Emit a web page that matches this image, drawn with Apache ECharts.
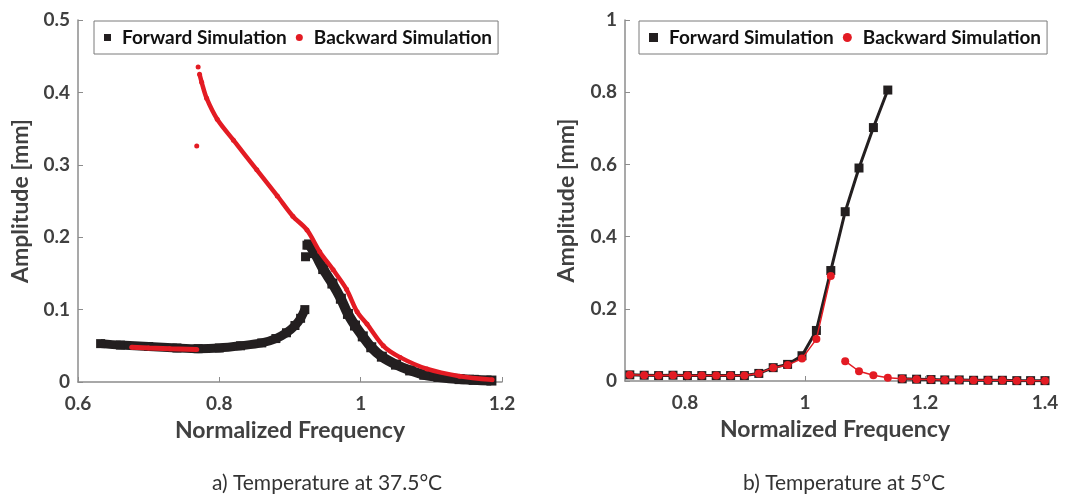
<!DOCTYPE html>
<html>
<head>
<meta charset="utf-8">
<script src="https://cdn.jsdelivr.net/npm/echarts@6.0.0/dist/echarts.min.js"></script>
<style>
  html, body { margin: 0; padding: 0; background: #fff; }
  #wrap { position: relative; width: 1069px; height: 495px; }
  #chart-left { position: absolute; left: 0; top: 0; width: 534px; height: 495px; }
  #chart-right { position: absolute; left: 534px; top: 0; width: 535px; height: 495px; }
</style>
</head>
<body>
<div id="wrap">
  <div id="chart-left"></div>
  <div id="chart-right"></div>
</div>
<script>
// ---------- DATA ----------

// a) 37.5°C, forward sweep [frequency, amplitude]
const fwdLowBranch = [
  [0.632, 0.053], [0.66, 0.051], [0.70, 0.049], [0.74, 0.047], [0.77, 0.046],
  [0.80, 0.047], [0.83, 0.050], [0.86, 0.054], [0.88, 0.060], [0.895, 0.068],
  [0.907, 0.078], [0.915, 0.088], [0.921, 0.100]
];
const fwdJump = [[0.922, 0.173], [0.924, 0.189]];
const fwdHighBranch = [
  [0.927, 0.190], [0.935, 0.178], [0.947, 0.156], [0.960, 0.136], [0.972, 0.115],
  [0.982, 0.094], [0.992, 0.078], [1.003, 0.063], [1.015, 0.048], [1.03, 0.035],
  [1.05, 0.024], [1.07, 0.016], [1.09, 0.010], [1.11, 0.007], [1.14, 0.004],
  [1.16, 0.003], [1.185, 0.002]
];

// a) 37.5°C, backward sweep
const bwdLowBranch = [
  [0.676, 0.048], [0.70, 0.047], [0.73, 0.046], [0.768, 0.045]
];
const bwdIsolated = [[0.768, 0.326], [0.770, 0.435]];
const bwdHighBranch = [
  [0.772, 0.425], [0.775, 0.414], [0.782, 0.392], [0.797, 0.363], [0.82, 0.334],
  [0.853, 0.293], [0.882, 0.257], [0.904, 0.229], [0.924, 0.210], [0.942, 0.180],
  [0.961, 0.155], [0.980, 0.128], [0.995, 0.097], [1.009, 0.080], [1.032, 0.050],
  [1.056, 0.034], [1.094, 0.018], [1.14, 0.008], [1.186, 0.003]
];

// b) 5°C
const freq5 = [0.708, 0.732, 0.756, 0.780, 0.804, 0.828, 0.852, 0.876, 0.899, 0.923,
  0.947, 0.971, 0.995, 1.019, 1.043, 1.067, 1.090, 1.114, 1.138, 1.162,
  1.186, 1.210, 1.233, 1.257, 1.281, 1.305, 1.329, 1.353, 1.376, 1.400];
const fwd5 = [0.017, 0.016, 0.015, 0.016, 0.015, 0.015, 0.015, 0.015, 0.015, 0.021,
  0.037, 0.046, 0.070, 0.140, 0.306, 0.469, 0.590, 0.702, 0.806, 0.006,
  0.005, 0.004, 0.003, 0.003, 0.002, 0.002, 0.002, 0.001, 0.001, 0.001];
const bwd5 = [0.017, 0.016, 0.015, 0.016, 0.015, 0.015, 0.015, 0.015, 0.015, 0.021,
  0.037, 0.044, 0.062, 0.116, 0.291, 0.055, 0.027, 0.016, 0.009, 0.006,
  0.005, 0.004, 0.003, 0.003, 0.002, 0.002, 0.002, 0.001, 0.001, 0.001];
const fwd5JumpAt = 19;   // forward curve breaks before this index
const bwd5JumpAt = 15;   // backward curve breaks before this index

const xTicks5 = [0.8, 1, 1.2, 1.4];

// ---------- STYLE ----------
const BLACK = '#231f20';
const RED = '#e31b23';
const AXIS = '#8c8c8c';
const TEXT = '#404040';
const FONT = 'Lato, "Open Sans", sans-serif';

function pairs(xs, ys, from, to) {
  const out = [];
  for (let i = from; i < to; i++) out.push([xs[i], ys[i]]);
  return out;
}

const tickLabel = { color: TEXT, fontFamily: FONT, fontWeight: 'bold', fontSize: 19 };

function baseAxis(extra) {
  return Object.assign({
    type: 'value',
    axisLine: { show: true, lineStyle: { color: AXIS, width: 1.5 } },
    axisTick: { show: true, inside: true, length: 5, lineStyle: { color: AXIS } },
    splitLine: { show: false },
    nameLocation: 'middle'
  }, extra);
}

function legendOpt(size) {
  return {
    left: 0, top: 21,
    orient: 'horizontal',
    backgroundColor: '#fff',
    borderColor: '#7a7a7a',
    borderWidth: 1,
    borderRadius: 0,
    padding: [7, 6, 7, 10],
    itemGap: 9,
    itemWidth: size, itemHeight: size,
    textStyle: { color: '#111', fontFamily: FONT, fontWeight: 'bold', fontSize: 19, padding: [0, 0, 0, 6] },
    data: [
      { name: 'Forward Simulation', icon: 'rect' },
      { name: 'Backward Simulation', icon: 'circle' }
    ]
  };
}

function caption(text, x) {
  return {
    text: text, left: x, top: 468, textAlign: 'center',
    textStyle: { color: '#333', fontFamily: FONT, fontWeight: 'normal', fontSize: 21 }
  };
}

const xName = { color: TEXT, fontFamily: FONT, fontWeight: 'bold', fontSize: 23 };
const yName = { color: TEXT, fontFamily: FONT, fontWeight: 'bold', fontSize: 23 };

// ---------- LEFT CHART ----------
const leftChart = echarts.init(document.getElementById('chart-left'));
const leftOpt = {
  animation: false,
  title: caption('a) Temperature at 37.5°C', 322),
  legend: Object.assign(legendOpt(7), { left: 94 }),
  grid: { left: 78, right: 32, top: 20, bottom: 113 },
  xAxis: baseAxis({ min: 0.6, max: 1.2, interval: 0.2, name: 'Normalized Frequency', nameGap: 37,
    nameTextStyle: xName, axisLabel: Object.assign({ margin: 12 }, tickLabel) }),
  yAxis: baseAxis({ min: 0, max: 0.5, interval: 0.1, name: 'Amplitude [mm]', nameGap: 45,
    nameTextStyle: yName, axisLabel: Object.assign({ margin: 8 }, tickLabel) }),
  series: [
    { name: 'Forward Simulation', type: 'line', data: fwdLowBranch, z: 2,
      symbol: 'rect', symbolSize: 9, showSymbol: true, smooth: 0.3,
      lineStyle: { color: BLACK, width: 9 }, itemStyle: { color: BLACK, opacity: 1 } },
    { name: 'Forward Simulation', type: 'scatter', data: fwdJump, z: 2,
      symbol: 'rect', symbolSize: 9, itemStyle: { color: BLACK, opacity: 1 } },
    { name: 'Forward Simulation', type: 'line', data: fwdHighBranch, z: 2,
      symbol: 'rect', symbolSize: 10, showSymbol: true, smooth: 0.3,
      lineStyle: { color: BLACK, width: 10 }, itemStyle: { color: BLACK, opacity: 1 } },
    { name: 'Backward Simulation', type: 'line', data: bwdLowBranch, z: 3,
      symbol: 'circle', symbolSize: 5, showSymbol: true,
      lineStyle: { color: RED, width: 5 }, itemStyle: { color: RED, opacity: 1 } },
    { name: 'Backward Simulation', type: 'scatter', data: bwdIsolated, z: 3,
      symbol: 'circle', symbolSize: 5, itemStyle: { color: RED, opacity: 1 } },
    { name: 'Backward Simulation', type: 'line', data: bwdHighBranch, z: 3,
      symbol: 'circle', symbolSize: 5, showSymbol: true, smooth: 0.3,
      lineStyle: { color: RED, width: 4.5 }, itemStyle: { color: RED, opacity: 1 } }
  ]
};
leftChart.setOption(leftOpt);

// ---------- RIGHT CHART ----------
const rightChart = echarts.init(document.getElementById('chart-right'));
const rightOpt = {
  animation: false,
  title: caption('b) Temperature at 5°C', 305),
  legend: Object.assign(legendOpt(9), { left: 105 }),
  grid: { left: 91, right: 24, top: 20, bottom: 114 },
  xAxis: baseAxis({ min: 0.7, max: 1.4, name: 'Normalized Frequency', nameGap: 37,
    nameTextStyle: xName,
    axisTick: { show: true, inside: true, length: 5, customValues: xTicks5, lineStyle: { color: AXIS } },
    axisLabel: Object.assign({ margin: 12, customValues: xTicks5 }, tickLabel) }),
  yAxis: baseAxis({ min: 0, max: 1, interval: 0.2, name: 'Amplitude [mm]', nameGap: 47,
    nameTextStyle: yName, axisLabel: Object.assign({ margin: 8 }, tickLabel) }),
  series: [
    { name: 'Forward Simulation', type: 'line', data: pairs(freq5, fwd5, 0, fwd5JumpAt), z: 2,
      symbol: 'rect', symbolSize: 9, lineStyle: { color: BLACK, width: 3 }, itemStyle: { color: BLACK } },
    { name: 'Forward Simulation', type: 'line', data: pairs(freq5, fwd5, fwd5JumpAt, freq5.length), z: 2,
      symbol: 'rect', symbolSize: 9, lineStyle: { color: BLACK, width: 3 }, itemStyle: { color: BLACK } },
    { name: 'Backward Simulation', type: 'line', data: pairs(freq5, bwd5, 0, bwd5JumpAt), z: 3,
      symbol: 'circle', symbolSize: 8, lineStyle: { color: RED, width: 1.5 }, itemStyle: { color: RED } },
    { name: 'Backward Simulation', type: 'line', data: pairs(freq5, bwd5, bwd5JumpAt, freq5.length), z: 3,
      symbol: 'circle', symbolSize: 8, lineStyle: { color: RED, width: 1.5 }, itemStyle: { color: RED } }
  ]
};
rightChart.setOption(rightOpt);
</script>
</body>
</html>
